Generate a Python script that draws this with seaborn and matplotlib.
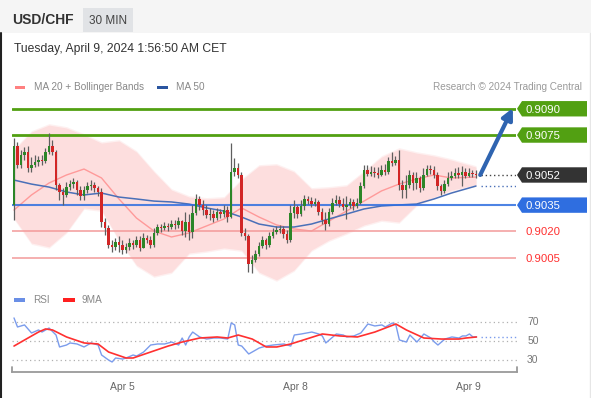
import numpy as np
import matplotlib
matplotlib.use("Agg")
import matplotlib.pyplot as plt
import seaborn as sns
from matplotlib.patches import Polygon, Rectangle
from matplotlib.lines import Line2D

# ---------------- data ----------------
symbol = "USD/CHF"
timeframe = "30 MIN"
timestamp = "Tuesday, April 9, 2024 1:56:50 AM CET"
credit = "Research \u00a9 2024 Trading Central"

first_open = 0.90351
closes = [
    0.90687, 0.90579, 0.90636, 0.90653, 0.90562, 0.90579, 0.90596, 0.90607, 0.90602, 0.90653,
    0.90687, 0.90653, 0.90465, 0.90425, 0.90408, 0.90453, 0.90470, 0.90482, 0.90436, 0.90402,
    0.90436, 0.90459, 0.90465, 0.90448, 0.90425, 0.90254, 0.90219, 0.90123, 0.90112, 0.90140,
    0.90123, 0.90094, 0.90112, 0.90134, 0.90123, 0.90151, 0.90106, 0.90162, 0.90151, 0.90123,
    0.90191, 0.90225, 0.90219, 0.90231, 0.90225, 0.90242, 0.90237, 0.90259, 0.90202, 0.90254,
    0.90197, 0.90305, 0.90385, 0.90351, 0.90322, 0.90294, 0.90299, 0.90276, 0.90311, 0.90299,
    0.90322, 0.90282, 0.90539, 0.90562, 0.90522, 0.90191, 0.90174, 0.90014, 0.90037, 0.90072,
    0.90117, 0.90151, 0.90123, 0.90174, 0.90197, 0.90208, 0.90214, 0.90185, 0.90151, 0.90305,
    0.90339, 0.90299, 0.90345, 0.90385, 0.90373, 0.90356, 0.90368, 0.90311, 0.90265, 0.90242,
    0.90311, 0.90362, 0.90379, 0.90356, 0.90339, 0.90351, 0.90368, 0.90345, 0.90362, 0.90459,
    0.90550, 0.90528, 0.90539, 0.90533, 0.90522, 0.90550, 0.90539, 0.90602, 0.90590, 0.90607,
    0.90465, 0.90436, 0.90465, 0.90522, 0.90476, 0.90505, 0.90448, 0.90522, 0.90556, 0.90550,
    0.90522, 0.90459, 0.90431, 0.90470, 0.90505, 0.90516, 0.90533, 0.90522, 0.90539, 0.90516,
    0.90533, 0.90528, 0.90522,
]
highs = [
    0.90733, 0.90710, 0.90664, 0.90682, 0.90687, 0.90624, 0.90636, 0.90630, 0.90636, 0.90676,
    0.90761, 0.90721, 0.90664, 0.90476, 0.90448, 0.90482, 0.90493, 0.90505, 0.90493, 0.90459,
    0.90459, 0.90482, 0.90493, 0.90482, 0.90459, 0.90448, 0.90276, 0.90237, 0.90151, 0.90162,
    0.90174, 0.90151, 0.90134, 0.90162, 0.90151, 0.90174, 0.90174, 0.90191, 0.90180, 0.90174,
    0.90219, 0.90242, 0.90242, 0.90254, 0.90248, 0.90265, 0.90265, 0.90282, 0.90265, 0.90311,
    0.90299, 0.90351, 0.90413, 0.90402, 0.90379, 0.90351, 0.90334, 0.90322, 0.90334, 0.90328,
    0.90351, 0.90345, 0.90704, 0.90619, 0.90590, 0.90539, 0.90219, 0.90185, 0.90066, 0.90094,
    0.90140, 0.90174, 0.90162, 0.90197, 0.90219, 0.90231, 0.90237, 0.90231, 0.90208, 0.90351,
    0.90379, 0.90351, 0.90379, 0.90408, 0.90402, 0.90396, 0.90391, 0.90379, 0.90334, 0.90311,
    0.90334, 0.90391, 0.90408, 0.90402, 0.90391, 0.90402, 0.90391, 0.90385, 0.90391, 0.90482,
    0.90579, 0.90579, 0.90573, 0.90567, 0.90567, 0.90579, 0.90585, 0.90624, 0.90653, 0.90630,
    0.90664, 0.90493, 0.90522, 0.90550, 0.90539, 0.90539, 0.90516, 0.90562, 0.90579, 0.90579,
    0.90573, 0.90539, 0.90470, 0.90493, 0.90539, 0.90545, 0.90562, 0.90567, 0.90573, 0.90562,
    0.90562, 0.90550, 0.90550,
]
lows = [
    0.90265, 0.90562, 0.90562, 0.90607, 0.90539, 0.90539, 0.90567, 0.90573, 0.90579, 0.90590,
    0.90642, 0.90636, 0.90436, 0.90379, 0.90351, 0.90396, 0.90436, 0.90448, 0.90408, 0.90379,
    0.90379, 0.90419, 0.90436, 0.90425, 0.90402, 0.90225, 0.90180, 0.90106, 0.90083, 0.90094,
    0.90083, 0.90072, 0.90077, 0.90094, 0.90100, 0.90112, 0.90089, 0.90106, 0.90134, 0.90106,
    0.90112, 0.90180, 0.90197, 0.90208, 0.90202, 0.90214, 0.90214, 0.90219, 0.90180, 0.90168,
    0.90151, 0.90162, 0.90294, 0.90322, 0.90294, 0.90276, 0.90265, 0.90254, 0.90265, 0.90276,
    0.90282, 0.90254, 0.90276, 0.90516, 0.90505, 0.90174, 0.90151, 0.89969, 0.89963, 0.90025,
    0.90060, 0.90106, 0.90100, 0.90112, 0.90162, 0.90185, 0.90191, 0.90162, 0.90134, 0.90140,
    0.90276, 0.90276, 0.90288, 0.90322, 0.90356, 0.90339, 0.90345, 0.90294, 0.90242, 0.90208,
    0.90231, 0.90299, 0.90351, 0.90339, 0.90322, 0.90271, 0.90334, 0.90322, 0.90334, 0.90356,
    0.90448, 0.90516, 0.90516, 0.90510, 0.90505, 0.90516, 0.90522, 0.90528, 0.90573, 0.90579,
    0.90436, 0.90391, 0.90391, 0.90448, 0.90436, 0.90442, 0.90425, 0.90436, 0.90516, 0.90528,
    0.90505, 0.90436, 0.90408, 0.90419, 0.90459, 0.90493, 0.90505, 0.90505, 0.90459, 0.90505,
    0.90510, 0.90510, 0.90505,
]

band_idx = [0, 5, 10, 15, 20, 25, 30, 35, 40, 45, 50, 55, 60, 65, 70, 75, 80, 85, 90, 95,
            100, 105, 110, 115, 120, 125, 132]
bb_upper = [0.90664, 0.90767, 0.90807, 0.90790, 0.90750, 0.90704, 0.90716, 0.90653, 0.90539,
            0.90436, 0.90396, 0.90385, 0.90391, 0.90493, 0.90573, 0.90579, 0.90539, 0.90442,
            0.90448, 0.90459, 0.90539, 0.90624, 0.90670, 0.90647, 0.90630, 0.90607, 0.90567]
bb_lower = [0.90276, 0.90134, 0.90112, 0.90197, 0.90334, 0.90322, 0.90151, 0.90008, 0.89946,
            0.89968, 0.90077, 0.90089, 0.90106, 0.90094, 0.89968, 0.89923, 0.89980, 0.90094,
            0.90151, 0.90191, 0.90237, 0.90265, 0.90254, 0.90351, 0.90396, 0.90436, 0.90465]
ma20 = [0.90322, 0.90408, 0.90476, 0.90522, 0.90556, 0.90505, 0.90385, 0.90276, 0.90202,
        0.90168, 0.90191, 0.90231, 0.90271, 0.90334, 0.90282, 0.90237, 0.90214, 0.90202,
        0.90259, 0.90316, 0.90373, 0.90431, 0.90470, 0.90499, 0.90522, 0.90505, 0.90510]
ma50 = [0.90493, 0.90470, 0.90453, 0.90425, 0.90408, 0.90419, 0.90396, 0.90385, 0.90373,
        0.90368, 0.90356, 0.90334, 0.90316, 0.90282, 0.90242, 0.90225, 0.90225, 0.90242,
        0.90271, 0.90299, 0.90328, 0.90345, 0.90351, 0.90356, 0.90385, 0.90419, 0.90459]

rsi_idx = [0, 1, 3, 5, 7, 8, 10, 12, 13, 15, 16, 18, 20, 22, 24, 25, 27, 28, 29, 31,
           32, 34, 35, 37, 39, 41, 43, 45, 47, 48, 49, 50, 51, 53, 55, 57, 59, 61, 62, 63,
           64, 65, 67, 68, 70, 72, 74, 77, 79, 80, 82, 85, 87, 88, 89, 91, 92, 94, 95, 97,
           99, 101, 103, 105, 106, 108, 109, 110, 112, 113, 115, 116, 117, 119, 120, 121, 123, 125, 127, 128,
           129, 130, 131, 132]
rsi_vals = [74.7, 65.0, 67.2, 58.6, 61.8, 59.6, 63.9, 56.4, 43.6, 45.7,
            47.9, 46.8, 43.6, 47.9, 45.7, 35.0, 29.6, 27.5, 31.8, 30.7,
            31.8, 35.0, 33.9, 38.2, 45.7, 46.8, 46.8, 48.9, 45.7, 53.2,
            45.7, 54.3, 59.6, 54.3, 52.1, 53.2, 53.2, 52.1, 69.3, 67.2,
            45.7, 44.6, 36.1, 38.2, 42.5, 44.6, 45.7, 46.8, 44.6, 56.4,
            57.5, 59.6, 57.5, 55.4, 47.9, 54.3, 57.5, 56.4, 54.3, 55.4,
            58.6, 68.2, 66.1, 67.2, 65.0, 69.3, 67.2, 51.1, 48.9, 56.4,
            48.9, 53.2, 57.5, 53.2, 48.9, 45.7, 52.1, 54.3, 53.2, 55.4,
            55.4, 57.5, 54.3, 54.3]
ma9_idx = [0, 4, 7, 9, 11, 15, 20, 24, 27, 32, 34, 39, 44, 48, 53, 58, 61, 64, 68, 72,
           75, 79, 88, 93, 98, 103, 109, 112, 117, 122, 127, 129, 132]
ma9_vals = [44.6, 53.2, 59.6, 62.9, 61.8, 54.3, 47.9, 46.8, 38.2, 31.8, 31.8, 38.2, 44.6,
            48.9, 53.2, 54.3, 53.2, 56.4, 52.1, 43.6, 43.6, 46.8, 57.5, 55.4, 54.3, 59.6,
            68.2, 61.8, 53.2, 52.1, 52.1, 53.2, 54.3]

resistances = [0.9090, 0.9075]
pivot = 0.9035
supports = [0.9020, 0.9005]
rsi_levels = [70, 50, 30]
date_tick_idx = [30.8, 80.4, 129.6]
date_tick_labels = ["Apr 5", "Apr 8", "Apr 9"]

# ---------------- style ----------------
sns.set_theme(style="white")
plt.rcParams['font.family'] = ['Liberation Sans', 'DejaVu Sans']

W, H = 591, 398
fig = plt.figure(figsize=(W / 100, H / 100), dpi=100)
fig.patch.set_facecolor('white')


def fr(x0, y0, x1, y1):
    return [x0 / W, 1 - y1 / H, (x1 - x0) / W, (y1 - y0) / H]


GREEN_C = '#2c8628'
RED_C = '#d22626'
GREEN_LVL = '#52a012'
BLUE_LVL = '#2f6ee0'
RED_LVL = '#f39a9a'
RED_TXT = '#ff3030'
MA50_C = '#4a70b8'
MA20_C = '#ff9a9a'
BAND_C = '#fddede'

# header
fig.add_artist(Rectangle((0, 1 - 33 / H), 1, 33 / H, transform=fig.transFigure,
                         facecolor='#f5f5f5', edgecolor='none', zorder=0))
fig.add_artist(Rectangle((83 / W, 1 - 32 / H), 50 / W, 24 / H, transform=fig.transFigure,
                         facecolor='#e1e3e6', edgecolor='none', zorder=1))
fig.text(12 / W, 1 - 20.5 / H, symbol, fontsize=10, fontweight='bold', color='#333333',
         va='center', ha='left')
fig.text(108 / W, 1 - 20.5 / H, timeframe, fontsize=8.5, color='#444444', va='center', ha='center')
fig.text(14 / W, 1 - 49 / H, timestamp, fontsize=8.7, color='#333333', va='center', ha='left')
fig.add_artist(Line2D([0.8 / W, 0.8 / W], [0, 1 - 33 / H], transform=fig.transFigure,
                      color='#222222', lw=1.5))
fig.add_artist(Line2D([589.5 / W, 589.5 / W], [0, 1 - 33 / H], transform=fig.transFigure,
                      color='#e6e6e6', lw=1))

# legends (top)
fig.add_artist(Rectangle((15 / W, 1 - 88.5 / H), 10 / W, 3 / H, transform=fig.transFigure,
                         facecolor='#ff8080', edgecolor='none'))
fig.text(34 / W, 1 - 87 / H, "MA 20 + Bollinger Bands", fontsize=7.2, color='#888888', va='center')
fig.add_artist(Rectangle((157 / W, 1 - 88.5 / H), 11 / W, 3 / H, transform=fig.transFigure,
                         facecolor='#2a55a0', edgecolor='none'))
fig.text(176 / W, 1 - 87 / H, "MA 50", fontsize=7.2, color='#888888', va='center')
fig.text(582 / W, 1 - 87 / H, credit, fontsize=7.2, color='#9a9a9a', va='center', ha='right')

# RSI legend
fig.add_artist(Rectangle((14 / W, 1 - 301.5 / H), 11 / W, 3.3 / H, transform=fig.transFigure,
                         facecolor='#6a8fe6', edgecolor='none'))
fig.text(33 / W, 1 - 300 / H, "RSI", fontsize=7.2, color='#888888', va='center')
fig.add_artist(Rectangle((63 / W, 1 - 301.5 / H), 12 / W, 3.3 / H, transform=fig.transFigure,
                         facecolor='#ff2020', edgecolor='none'))
fig.text(82 / W, 1 - 300 / H, "9MA", fontsize=7.2, color='#888888', va='center')

# ---------------- price panel ----------------
ax = fig.add_axes(fr(12, 100, 516, 285))
n = len(closes)
idx = np.arange(n)
c = np.array(closes)
o = np.r_[first_open, c[:-1]]
hi = np.maximum(np.array(highs), np.maximum(o, c))
lo = np.minimum(np.array(lows), np.minimum(o, c))
up = c >= o

# soft-edged Bollinger cloud: a faint halo plus the main fill
ub = np.array(bb_upper)
lb = np.array(bb_lower)
ax.fill_between(band_idx, lb - 0.00008, ub + 0.00008, color=BAND_C, alpha=0.45, lw=0, zorder=1)
ax.fill_between(band_idx, lb, ub, color=BAND_C, lw=0, zorder=1)
sns.lineplot(x=band_idx, y=ma20, ax=ax, color=MA20_C, lw=1.0, zorder=2)
sns.lineplot(x=band_idx, y=ma50, ax=ax, color=MA50_C, lw=1.1, zorder=2)

for lvl in resistances:
    ax.axhline(lvl, color=GREEN_LVL, lw=2, zorder=2)
ax.axhline(pivot, color=BLUE_LVL, lw=1.5, zorder=2, alpha=0.85)
for lvl in supports:
    ax.axhline(lvl, color=RED_LVL, lw=1.1, zorder=2)

ax.vlines(idx, lo, hi, color='#5f5f5f', lw=0.9, zorder=3)
body_bottom = np.minimum(o, c)
body_h = np.maximum(np.abs(c - o), 0.00003)
ax.bar(idx, body_h, bottom=body_bottom, width=0.78,
       color=np.where(up, GREEN_C, RED_C), lw=0, zorder=4)

x_end = 143.43
ax.set_xlim(-0.571, x_end)
ax.set_ylim(0.89894, 0.90950)
ax.axis('off')

# current price & MA50 dotted extensions
ax.hlines(c[-1], n + 0.3, x_end, colors='#444444', linestyles=(0, (1, 2)), lw=1, zorder=3)
ax.hlines(ma50[-1], n + 0.3, x_end, colors=MA50_C, linestyles=(0, (1, 2)), lw=1, zorder=3)

# forecast arrow
ax.annotate('', xy=(x_end - 0.9, resistances[0] + 0.00004), xytext=(n + 0.2, c[-1]),
            arrowprops=dict(arrowstyle='-|>', color='#2f64b0', lw=3.0, mutation_scale=16,
                            shrinkA=0, shrinkB=0), zorder=6, annotation_clip=False)


def label_box(level, face, text, txt_color='white', box=True):
    yd = ax.transData.transform((0, level))[1]
    yf = yd / H
    hh = 7.7 / H
    if box:
        pts = [(517 / W, yf), (522 / W, yf + hh), (587 / W, yf + hh), (587 / W, yf - hh),
               (522 / W, yf - hh)]
        fig.add_artist(Polygon(pts, closed=True, transform=fig.transFigure,
                               facecolor=face, edgecolor='none', zorder=5))
    fig.text(526 / W, yf, text, fontsize=8.2, color=txt_color, va='center_baseline',
             ha='left', zorder=6)


for lvl in resistances:
    label_box(lvl, GREEN_LVL, f"{lvl:.4f}")
label_box(c[-1], '#333333', f"{c[-1]:.4f}")
label_box(pivot, BLUE_LVL, f"{pivot:.4f}")
for lvl in supports:
    label_box(lvl, None, f"{lvl:.4f}", txt_color=RED_TXT, box=False)

# ---------------- RSI panel ----------------
ax2 = fig.add_axes(fr(12, 300, 516.5, 372))
ax2.set_facecolor('none')
ax2.hlines(rsi_levels, -0.571, x_end, colors='#b0b0b0', linestyles=(0, (1, 2.5)), lw=0.9, zorder=1)
sns.lineplot(x=ma9_idx, y=ma9_vals, ax=ax2, color='#ff3030', lw=1.2, zorder=3)
sns.lineplot(x=rsi_idx, y=rsi_vals, ax=ax2, color='#7b9cec', lw=1.0, zorder=2)
ax2.hlines(rsi_vals[-1], n + 0.3, x_end, colors='#7b9cec', linestyles=(0, (1, 2)), lw=1, zorder=2)
ax2.set_xlim(-0.571, x_end)
ax2.set_ylim(16.8, 93.9)
for s in ['top', 'left', 'right']:
    ax2.spines[s].set_visible(False)
ax2.spines['bottom'].set_color('#9a9a9a')
ax2.spines['bottom'].set_linewidth(1.3)
ax2.set_yticks([])
ax2.set_xticks(date_tick_idx)
ax2.set_xticklabels(date_tick_labels, fontsize=7.5, color='#666666')
ax2.tick_params(axis='x', length=0, pad=7)
ax2.set_xlabel('')
ax2.set_ylabel('')
for xe in (-0.571, x_end):
    ax2.plot([xe, xe], [16.8, 16.8 + 5.5], color='#9a9a9a', lw=1.3, clip_on=False, zorder=4)
for lv in rsi_levels:
    ax2.text(1.021, lv, str(lv), transform=ax2.get_yaxis_transform(), fontsize=7.5,
             color='#777777', va='center', ha='left')

fig.savefig("out.png", dpi=100)
